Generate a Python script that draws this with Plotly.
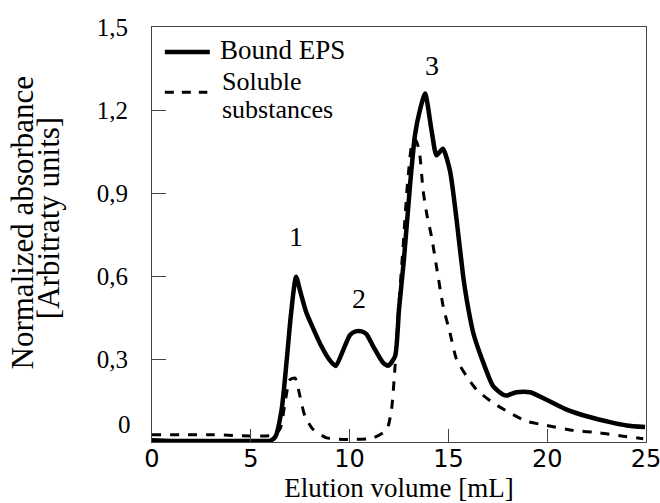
import plotly.graph_objects as go

# ---- data ----
bound_x = [0, 1, 3, 5, 6.0, 6.25, 6.56, 6.82, 7.02, 7.29, 7.5, 7.8, 8.16, 8.58, 9.0, 9.3,
           9.68, 10.02, 10.3, 10.6, 10.85, 11.2, 11.7, 11.96, 12.3, 12.5, 12.75, 13.06,
           13.31, 13.56, 13.82, 14.15, 14.4, 14.72, 15.08, 15.42, 15.75, 15.93, 16.26,
           16.77, 17.27, 17.78, 17.95, 18.45, 19.13, 19.97, 20.99, 22.0, 23.18, 24.02, 24.95]
bound_y = [0.006, 0.004, 0.004, 0.004, 0.005, 0.02, 0.117, 0.297, 0.453, 0.597, 0.545,
           0.47, 0.41, 0.345, 0.295, 0.275, 0.333, 0.387, 0.40, 0.40, 0.39, 0.345, 0.286,
           0.276, 0.31, 0.48, 0.66, 0.93, 1.11, 1.20, 1.26, 1.125, 1.036, 1.06, 0.98,
           0.80, 0.597, 0.513, 0.394, 0.286, 0.201, 0.171, 0.168, 0.18, 0.18, 0.153,
           0.117, 0.093, 0.072, 0.06, 0.054]

sol_x = [0, 3, 6.2, 6.5, 6.73, 6.98, 7.24, 7.49, 7.74, 8.16, 8.84, 10.02, 11.2, 11.88,
         12.12, 12.3, 12.45, 12.7, 12.95, 13.2, 13.35, 13.53, 13.72, 13.9, 14.15, 14.4,
         14.74, 15.08, 15.42, 15.93, 16.43, 17.27, 18.12, 18.96, 19.97, 21.32, 22.67,
         23.85, 24.86]
sol_y = [0.026, 0.026, 0.026, 0.05, 0.141, 0.225, 0.231, 0.165, 0.093, 0.045, 0.015,
         0.009, 0.015, 0.045, 0.117, 0.273, 0.45, 0.70, 0.95, 1.09, 1.09, 1.05, 0.909,
         0.826, 0.741, 0.633, 0.489, 0.394, 0.297, 0.237, 0.189, 0.141, 0.105, 0.075,
         0.06, 0.042, 0.033, 0.021, 0.012]

series_names = ["Bound EPS", "Soluble", "substances"]
x_ticks = [0, 5, 10, 15, 20, 25]
y_ticks = [0.3, 0.6, 0.9, 1.2, 1.5]
y_ticktext = ["0,3", "0,6", "0,9", "1,2", "1,5"]
peak_labels = ["1", "2", "3"]
peak_x = [7.29, 10.48, 14.17]
peak_y = [0.744, 0.52, 1.36]

SERIF = "Liberation Serif, Times New Roman, serif"
SANS = "DejaVu Sans, sans-serif"

fig = go.Figure()
fig.add_trace(go.Scatter(x=bound_x, y=bound_y, mode="lines", name=series_names[0],
                         line=dict(color="black", width=4.5, shape="spline", smoothing=0.6),
                         showlegend=False))
fig.add_trace(go.Scatter(x=sol_x, y=sol_y, mode="lines", name="Soluble substances",
                         line=dict(color="black", width=3, dash="9px,9px", shape="spline", smoothing=0.6),
                         showlegend=False))

annotations = []
for t, px, py in zip(peak_labels, peak_x, peak_y):
    annotations.append(dict(x=px, y=py, xref="x", yref="y", text=t, showarrow=False,
                            font=dict(family=SERIF, size=28, color="black")))

# y-axis zero label
annotations.append(dict(x=0, y=0, xref="paper", yref="y", text="0", showarrow=False,
                        xanchor="right", yanchor="middle", xshift=-19, yshift=18,
                        font=dict(family=SERIF, size=25, color="black")))

# y-axis title (two lines)
annotations.append(dict(x=-0.262, y=0.528, xref="paper", yref="paper", text="Normalized absorbance",
                        textangle=-90, showarrow=False, xanchor="center", yanchor="middle",
                        font=dict(family=SERIF, size=31, color="black")))
annotations.append(dict(x=-0.208, y=0.540, xref="paper", yref="paper", text="[Arbitraty units]",
                        textangle=-90, showarrow=False, xanchor="center", yanchor="middle",
                        font=dict(family=SERIF, size=31, color="black")))

# legend texts
annotations.append(dict(x=0.134, y=0.945, xref="paper", yref="paper", text=series_names[0],
                        showarrow=False, xanchor="left", yanchor="middle",
                        font=dict(family=SERIF, size=27, color="black")))
annotations.append(dict(x=0.138, y=0.868, xref="paper", yref="paper", text=series_names[1],
                        showarrow=False, xanchor="left", yanchor="middle",
                        font=dict(family=SERIF, size=26, color="black")))
annotations.append(dict(x=0.138, y=0.800, xref="paper", yref="paper", text=series_names[2],
                        showarrow=False, xanchor="left", yanchor="middle",
                        font=dict(family=SERIF, size=26, color="black")))

shapes = [
    dict(type="line", xref="paper", yref="paper", x0=0.026, x1=0.117, y0=0.940, y1=0.940,
         line=dict(color="black", width=4.5)),
    dict(type="line", xref="paper", yref="paper", x0=0.026, x1=0.112, y0=0.843, y1=0.843,
         line=dict(color="black", width=3, dash="9px,8px")),
]

fig.update_layout(
    width=660, height=503,
    margin=dict(l=152, r=14, t=27, b=61),
    paper_bgcolor="white", plot_bgcolor="white",
    annotations=annotations, shapes=shapes,
    showlegend=False,
    xaxis=dict(range=[0, 25], tickvals=x_ticks, ticks="inside", ticklen=13, automargin=False,
               tickcolor="#444", showline=True, linecolor="#444", linewidth=1, mirror=True,
               showgrid=False, zeroline=False, ticklabeloverflow="allow", ticklabelstandoff=-5,
               tickfont=dict(family=SANS, size=24, color="black"),
               title=dict(text="Elution volume [mL]", font=dict(family=SERIF, size=27, color="black"),
                          standoff=0)),
    yaxis=dict(range=[0, 1.5], tickvals=y_ticks, ticktext=y_ticktext, ticks="inside", ticklen=14,
               automargin=False, ticklabeloverflow="allow",
               tickcolor="#444", showline=True, linecolor="#444", linewidth=1, mirror=True,
               showgrid=False, zeroline=False, ticklabelstandoff=18,
               tickfont=dict(family=SERIF, size=25, color="black")),
)

fig.write_html("out.html", config={"displayModeBar": False},
               post_script="document.body.style.margin='0';document.body.style.overflow='hidden';")
